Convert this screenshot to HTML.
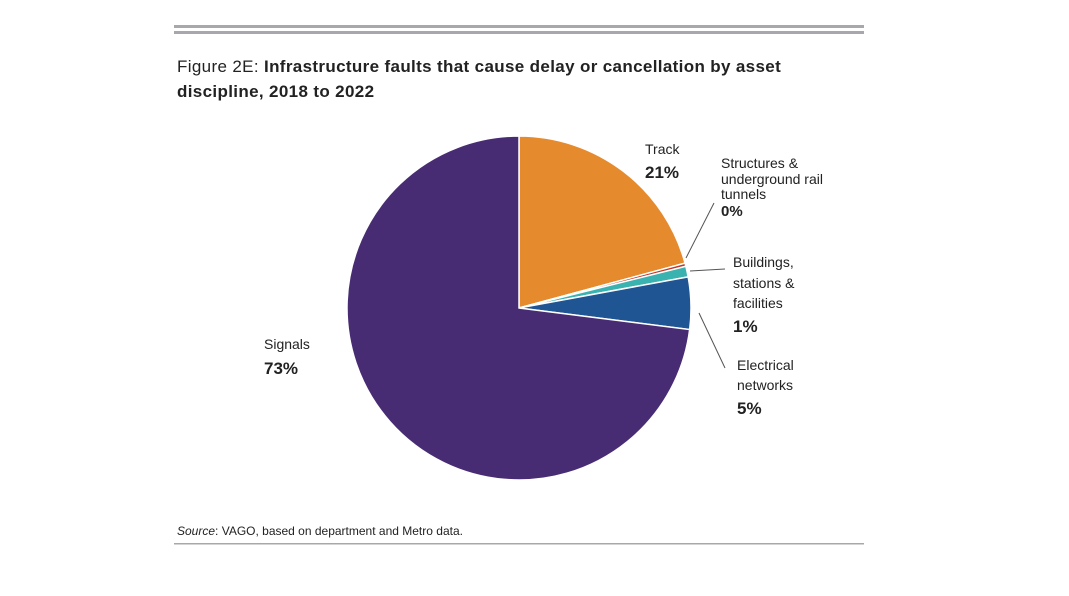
<!DOCTYPE html>
<html><head><meta charset="utf-8"><style>
body{margin:0;background:#fff;width:1069px;height:596px;overflow:hidden;font-family:"Liberation Sans",sans-serif;}
</style></head><body>
<svg width="1069" height="596" style="position:absolute;left:0;top:0">
<rect x="174" y="25" width="690" height="3" fill="#a6a8ab"/>
<rect x="174" y="31" width="690" height="3" fill="#a6a8ab"/>
<text x="177" y="72" font-size="17" letter-spacing="0.35" fill="#222">Figure 2E: <tspan font-weight="bold">Infrastructure faults that cause delay or cancellation by asset</tspan></text>
<text x="177" y="97" font-size="17" letter-spacing="0.35" font-weight="bold" fill="#222">discipline, 2018 to 2022</text>
<g id="pie"></g>
<g font-size="14" fill="#222">
<text x="645" y="154">Track</text>
<text x="645" y="178" font-size="17" font-weight="bold">21%</text>
<text x="721" y="168">Structures &amp;</text>
<text x="721" y="184">underground rail</text>
<text x="721" y="199">tunnels</text>
<text x="721" y="216" font-size="15" font-weight="bold">0%</text>
<text x="733" y="267">Buildings,</text>
<text x="733" y="288">stations &amp;</text>
<text x="733" y="308">facilities</text>
<text x="733" y="332" font-size="17" font-weight="bold">1%</text>
<text x="737" y="370">Electrical</text>
<text x="737" y="390">networks</text>
<text x="737" y="414" font-size="17" font-weight="bold">5%</text>
<text x="264" y="349">Signals</text>
<text x="264" y="374" font-size="17" font-weight="bold">73%</text>
</g>
<line x1="686" y1="258" x2="714" y2="203" stroke="#555"/>
<line x1="690" y1="271" x2="725" y2="269" stroke="#555"/>
<line x1="699" y1="313" x2="725" y2="368" stroke="#555"/>
<text x="177" y="535" font-size="12" fill="#222"><tspan font-style="italic">Source</tspan>: VAGO, based on department and Metro data.</text>
<rect x="174" y="543" width="690" height="1.5" fill="#a6a8ab"/>
</svg>
<script>
const categories=["Track","Structures","Buildings","Electrical","Signals"];
const values=[20.8,0.3,1.0,4.9,73.0];
const colors=["#e68a2e","#c0392b","#3ab3b0","#1f5592","#482c73"];
const cx=519,cy=308,r=172;
const g=document.getElementById('pie');
const total=values.reduce((a,b)=>a+b,0);
let acc=0;
function pt(f){const a=f*2*Math.PI;return [cx+r*Math.sin(a),cy-r*Math.cos(a)];}
values.forEach((v,i)=>{
  const f0=acc/total; acc+=v; const f1=acc/total;
  const p0=pt(f0),p1=pt(f1);
  const large=(f1-f0)>0.5?1:0;
  const p=document.createElementNS('http://www.w3.org/2000/svg','path');
  p.setAttribute('d',`M${cx},${cy}L${p0[0]},${p0[1]}A${r},${r} 0 ${large} 1 ${p1[0]},${p1[1]}Z`);
  p.setAttribute('fill',colors[i]);
  p.setAttribute('stroke','#fff');
  p.setAttribute('stroke-width','1.5');
  
  
  g.appendChild(p);
});
</script>
</body></html>
